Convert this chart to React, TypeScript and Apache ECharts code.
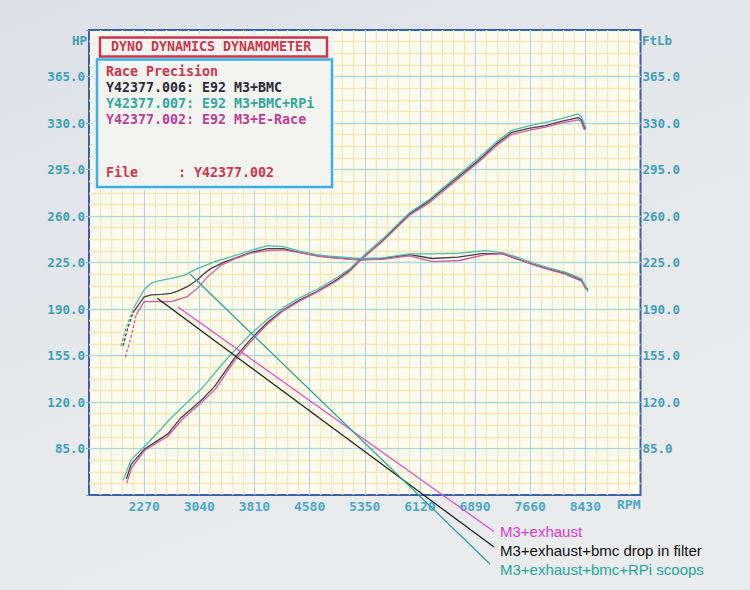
import React, { useEffect, useRef } from "react";
import * as echarts from "echarts";

// ---------- axes / ticks ----------
const RPM_TICKS = [2270, 3040, 3810, 4580, 5350, 6120, 6890, 7660, 8430];
const VALUE_TICKS = [85, 120, 155, 190, 225, 260, 295, 330, 365];
const RPM_MIN = 1500;
const RPM_MAX = 9200;
const RPM_STEP = 770;
const VALUE_MIN = 50;
const VALUE_MAX = 400;
const VALUE_STEP = 35;

// ---------- run names ----------
const RUN_LINES = [
  "Y42377.006: E92 M3+BMC",
  "Y42377.007: E92 M3+BMC+RPi",
  "Y42377.002: E92 M3+E-Race",
];
const ANNOTATIONS = ["M3+exhaust", "M3+exhaust+bmc drop in filter", "M3+exhaust+bmc+RPi scoops"];

// ---------- power (HP) ----------
const POWER_006_RPM = [2022, 2088, 2274, 2602, 2782, 3060, 3248, 3524, 3755, 3986, 4215, 4446, 4677, 4953, 5140, 5310, 5600, 5975, 6251, 6945, 7183, 7404, 7639, 7874, 8095, 8330, 8371, 8427];
const POWER_006 = [62, 73, 84.5, 96, 108, 121, 131.4, 152.4, 167.1, 179.6, 189.4, 196.9, 203, 211.8, 219.1, 228.1, 241.4, 261.5, 271.4, 302.2, 314.1, 323, 326, 328.1, 331.2, 334.1, 332.6, 325.2];

const POWER_007_RPM = [1976, 2088, 2274, 2478, 2644, 2878, 3101, 3344, 3524, 3755, 3986, 4215, 4446, 4677, 4953, 5140, 5310, 5600, 5975, 6251, 6945, 7183, 7404, 7639, 7874, 8095, 8330, 8378, 8443];
const POWER_007 = [61, 76.6, 86.5, 98, 108, 120, 131.7, 147.5, 158.3, 171, 182, 191.2, 198.6, 204.5, 213.3, 220.2, 229, 242.8, 262.5, 272.4, 303.8, 315.6, 324.5, 327.9, 330.4, 333.3, 336.8, 334.3, 325.5];

const POWER_002_RPM = [2028, 2098, 2274, 2598, 2823, 3060, 3264, 3524, 3755, 3986, 4215, 4446, 4677, 4953, 5140, 5310, 5600, 5975, 6251, 6945, 7183, 7404, 7639, 7874, 8095, 8330, 8368, 8418];
const POWER_002 = [58.9, 70.7, 83.5, 94, 108, 119, 129.7, 150.4, 165.2, 178.4, 188.8, 196.1, 202.5, 210.9, 218.3, 227.6, 240.9, 260.6, 269.9, 300.9, 312.7, 321.5, 324.5, 326.9, 329.9, 332.4, 331.4, 324.5];

// ---------- torque (FtLb) ----------
const TORQUE_006_RPM = [1975, 2036, 2114, 2270, 2368, 2508, 2644, 2738, 2873, 3012, 3100, 3200, 3386, 3524, 3755, 3990, 4211, 4446, 4681, 4902, 5280, 5600, 5975, 6292, 6652, 6985, 7265, 7458, 7681, 7908, 8150, 8371, 8468];
const TORQUE_006 = [162.2, 174.7, 187.3, 199.1, 200.6, 201, 201.8, 203.5, 206.8, 211.8, 216.3, 220.4, 225.3, 228, 232.5, 235.5, 235.5, 232.5, 230, 228.7, 227, 228, 231, 228, 229, 231.7, 231.7, 228, 224, 220.2, 216.9, 211.8, 204.3];

const TORQUE_007_RPM = [1948, 2018, 2132, 2270, 2368, 2458, 2644, 2827, 3012, 3248, 3524, 3755, 3990, 4211, 4446, 4681, 4906, 5280, 5600, 5975, 6297, 6672, 7036, 7270, 7478, 7685, 7908, 8146, 8376, 8468];
const TORQUE_007 = [162.2, 176, 191.7, 204.5, 209.4, 210.9, 213, 215.3, 220.4, 225.4, 230, 234, 237.7, 237, 233.5, 231, 229.5, 228, 228.5, 231.5, 231.5, 232, 234, 232.5, 229, 225, 221.2, 217.8, 212.9, 203];

const TORQUE_002_RPM = [2008, 2078, 2160, 2270, 2367, 2644, 2873, 3012, 3156, 3340, 3524, 3755, 3990, 4211, 4446, 4681, 4906, 5280, 5600, 5975, 6297, 6672, 7036, 7270, 7478, 7685, 7908, 8146, 8376, 8440];
const TORQUE_002 = [153.8, 167.1, 185.8, 195.6, 195.6, 195.6, 199.4, 205.5, 214.2, 222.8, 227.5, 232, 234, 234.5, 232.5, 230, 228.5, 227, 227.3, 230, 225.7, 226.5, 231, 231.7, 228, 223.5, 219.8, 216.3, 210.9, 204.5];

const TORQUE_DASHED_LEAD = 3;

const C006 = "#463e4e";
const C007 = "#4dbba8";
const C002 = "#cc5f9f";

export default function App() {
  const ref = useRef<HTMLDivElement>(null);

  useEffect(() => {
    const chart = echarts.init(ref.current!, null, { renderer: "svg" });
    const mono = "'DejaVu Sans Mono', monospace";
    const labelColor = "#3d9fb6";
    const pair = (r: number[], v: number[]) => r.map((x, i) => [x, v[i]]);

    const line = (data: number[][], color: string, dashed = false) => ({
      type: "line",
      xAxisIndex: 0,
      yAxisIndex: 0,
      data,
      showSymbol: false,
      symbol: "none",
      silent: true,
      z: 5,
      lineStyle: { color, width: 1.3, type: dashed ? [3, 2] : "solid" },
    });

    const series: any[] = [];
    [
      [POWER_006_RPM, POWER_006, C006],
      [POWER_007_RPM, POWER_007, C007],
      [POWER_002_RPM, POWER_002, C002],
    ].forEach(([r, v, c]: any) => series.push(line(pair(r, v), c)));
    [
      [TORQUE_006_RPM, TORQUE_006, C006],
      [TORQUE_007_RPM, TORQUE_007, C007],
      [TORQUE_002_RPM, TORQUE_002, C002],
    ].forEach(([r, v, c]: any) => {
      const d = pair(r, v);
      series.push(line(d.slice(0, TORQUE_DASHED_LEAD), c, true));
      series.push(line(d.slice(TORQUE_DASHED_LEAD - 1), c));
    });

    // display axes run in offset units (value - min) so that min = 0 is a multiple of the interval
    const rpmSpan = RPM_MAX - RPM_MIN;
    const valSpan = VALUE_MAX - VALUE_MIN;
    const minorLine = { show: true, showMinLine: false, showMaxLine: false, lineStyle: { color: "#f4e8b6", width: 1.3 } };
    const majorLine = { show: true, showMinLine: false, showMaxLine: false, lineStyle: { color: "#a9d6ec", width: 1 } };
    const hidden = { axisLine: { show: false, onZero: false }, axisTick: { show: false }, axisLabel: { show: false } };

    const valFmt = (v: number) => {
      const t = Math.round(v + VALUE_MIN);
      return VALUE_TICKS.includes(t) ? t.toFixed(1) : "";
    };
    const valLabel = { color: labelColor, fontFamily: mono, fontWeight: "bold", fontSize: 12.5, formatter: valFmt };

    const boxFont = { fontFamily: mono, fontWeight: "bold", fontSize: 13.3, verticalAlign: "middle" };
    const red = "#c8374e";
    const sans = "'Liberation Sans', Arial, sans-serif";

    const graphic: any[] = [
      { type: "rect", z: 100, shape: { x: 92, y: 34, width: 242, height: 156 }, style: { fill: "#f3f3f0" } },
      { type: "rect", z: 101, shape: { x: 100, y: 37.5, width: 227, height: 19 }, style: { fill: "none", stroke: red, lineWidth: 2.5 } },
      { type: "rect", z: 101, shape: { x: 97, y: 59.5, width: 235, height: 127.5 }, style: { fill: "none", stroke: "#3cb0e4", lineWidth: 2.5 } },
      { type: "text", z: 102, style: { text: "DYNO DYNAMICS DYNAMOMETER", x: 111, y: 46.5, fill: red, ...boxFont } },
      { type: "text", z: 102, style: { text: "Race Precision", x: 106, y: 71, fill: red, ...boxFont } },
      { type: "text", z: 102, style: { text: RUN_LINES[0], x: 106, y: 87.5, fill: "#2c2a38", ...boxFont } },
      { type: "text", z: 102, style: { text: RUN_LINES[1], x: 106, y: 103.5, fill: "#2ea79e", ...boxFont } },
      { type: "text", z: 102, style: { text: RUN_LINES[2], x: 106, y: 119.5, fill: "#b93e98", ...boxFont } },
      { type: "text", z: 102, style: { text: "File     : Y42377.002", x: 106, y: 172.5, fill: red, ...boxFont } },
      { type: "text", z: 102, style: { text: "HP", x: 87, y: 40, align: "right", verticalAlign: "middle", fill: labelColor, fontFamily: mono, fontWeight: "bold", fontSize: 12.5 } },
      { type: "text", z: 102, style: { text: "FtLb", x: 642, y: 40, verticalAlign: "middle", fill: labelColor, fontFamily: mono, fontWeight: "bold", fontSize: 12.5 } },
      { type: "text", z: 102, style: { text: "RPM", x: 617, y: 504, verticalAlign: "middle", fill: "#4aa8c8", fontFamily: mono, fontWeight: "bold", fontSize: 13 } },
      // hand-drawn annotation pointers
      { type: "line", z: 110, shape: { x1: 178, y1: 307, x2: 494, y2: 531.5 }, style: { stroke: "#d54ad0", lineWidth: 1.2 } },
      { type: "line", z: 110, shape: { x1: 157.3, y1: 298.3, x2: 494, y2: 547 }, style: { stroke: "#1a1a1a", lineWidth: 1.2 } },
      { type: "line", z: 110, shape: { x1: 190, y1: 274, x2: 490, y2: 564 }, style: { stroke: "#1fa394", lineWidth: 1.2 } },
      { type: "text", z: 110, style: { text: ANNOTATIONS[0], x: 500, y: 531.5, verticalAlign: "middle", fill: "#d23cd2", fontFamily: sans, fontSize: 15 } },
      { type: "text", z: 110, style: { text: ANNOTATIONS[1], x: 500, y: 550, verticalAlign: "middle", fill: "#111111", fontFamily: sans, fontSize: 15 } },
      { type: "text", z: 110, style: { text: ANNOTATIONS[2], x: 500, y: 569, verticalAlign: "middle", fill: "#1fa89a", fontFamily: sans, fontSize: 15 } },
    ];

    chart.setOption({
      animation: false,
      backgroundColor: "transparent",
      grid: {
        left: 89,
        right: 109.5,
        top: 30,
        bottom: 95,
        show: true,
        backgroundColor: "#fcfbef",
        borderColor: "#3a60ad",
        borderWidth: 2,
      },
      xAxis: [
        { type: "value", min: RPM_MIN, max: RPM_MAX, show: false },
        { type: "value", min: 0, max: rpmSpan, interval: RPM_STEP / 5, z: 0, ...hidden, splitLine: minorLine },
        {
          type: "value",
          min: 0,
          max: rpmSpan,
          interval: RPM_STEP,
          position: "bottom",
          z: 1,
          axisLine: { show: false, onZero: false },
          axisTick: { show: false },
          axisLabel: {
            color: "#4aa8c8",
            fontFamily: mono,
            fontWeight: "bold",
            fontSize: 13,
            margin: 5,
            formatter: (v: number) => {
              const r = Math.round(v + RPM_MIN);
              return RPM_TICKS.includes(r) ? String(r) : "";
            },
          },
          splitLine: majorLine,
        },
      ],
      yAxis: [
        { type: "value", min: VALUE_MIN, max: VALUE_MAX, show: false },
        { type: "value", min: 0, max: valSpan, interval: VALUE_STEP / 4, z: 0, ...hidden, splitLine: minorLine },
        {
          type: "value",
          min: 0,
          max: valSpan,
          interval: VALUE_STEP,
          position: "left",
          z: 1,
          axisLine: { show: false, onZero: false },
          axisTick: { show: true, length: 3, lineStyle: { color: "#6cb8cf" } },
          axisLabel: { ...valLabel, margin: 4 },
          splitLine: majorLine,
        },
        {
          type: "value",
          min: 0,
          max: valSpan,
          interval: VALUE_STEP,
          position: "right",
          z: 1,
          axisLine: { show: false, onZero: false },
          axisTick: { show: false },
          axisLabel: { ...valLabel, margin: 2 },
          splitLine: { show: false },
        },
      ],
      series,
      graphic,
    });

    return () => chart.dispose();
  }, []);

  return (
    <div
      ref={ref}
      style={{
        position: "fixed",
        left: 0,
        top: 0,
        width: 750,
        height: 590,
        background: "linear-gradient(160deg, #dce1e5 0%, #e6e9ec 45%, #ebeced 100%)",
      }}
    />
  );
}
